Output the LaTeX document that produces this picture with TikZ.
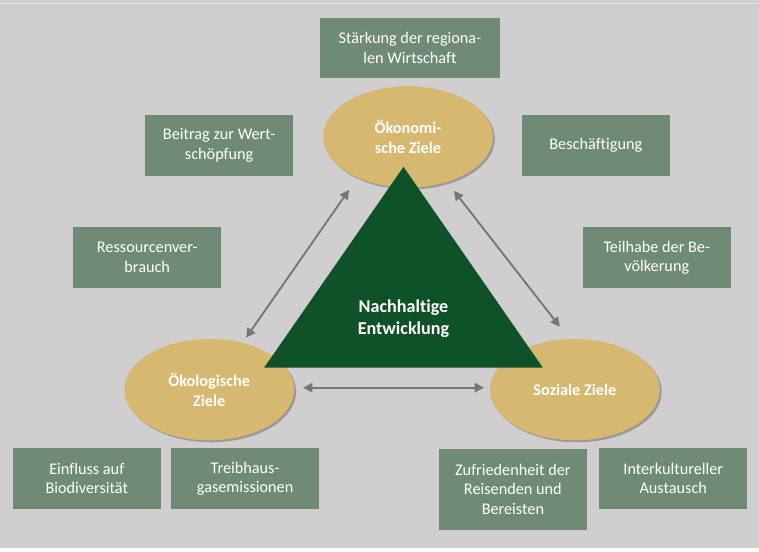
\documentclass[tikz,border=0pt]{standalone}
\usepackage{fontspec}
\setmainfont{Carlito}[Ligatures=NoCommon]
\usetikzlibrary{arrows.meta,shadows}

\definecolor{bggray}{RGB}{208,206,206}
\definecolor{boxgreen}{RGB}{111,139,117}
\definecolor{goalsand}{RGB}{214,184,112}
\definecolor{coregreen}{RGB}{15,81,40}
\definecolor{linkgray}{RGB}{118,118,118}

\tikzset{
  aspect/.style={fill=boxgreen, text=white, align=center, inner sep=0pt,
    minimum width=111pt, minimum height=45.75pt,
    font=\fontsize{12.2}{14.6}\selectfont},
  goal/.style={ellipse, fill=goalsand, text=white, align=center, inner sep=0pt,
    minimum width=127.5pt, minimum height=76pt,
    font=\fontsize{12.2}{15}\selectfont\bfseries,
    drop shadow={shadow xshift=1.5pt, shadow yshift=-1.5pt, opacity=0.25, fill=black}},
  link/.style={draw=linkgray, line width=1.4pt, {Triangle[width=7pt,length=7pt]}-{Triangle[width=7pt,length=7pt]}}
}

\begin{document}
\begin{tikzpicture}[x=0.75pt,y=-0.75pt]
  \usetikzlibrary{shapes.geometric}
  % background
  \fill[white] (0,0) rectangle (759,552);
  \fill[bggray] (0,0) rectangle (759,548);
  \draw[white!40!bggray, line width=0.5pt] (0,3) -- (759,3);
  \useasboundingbox (0,0) rectangle (759,552);

  % goals
  \node[goal] (oekonom) at (408,137) {Ökonomi-\\sche Ziele};
  \node[goal] (oekolog) at (209,390) {Ökologische\\Ziele};
  \node[goal] (sozial) at (575,390) {Soziale Ziele};

  % centre
  \fill[coregreen] (264,368) -- (403.5,167) -- (543,368) -- cycle;
  \node[text=white, align=center, font=\fontsize{13.6}{16.5}\selectfont\bfseries] (core) at (403.5,319) {Nachhaltige\\Entwicklung};

  % aspects
  \node[aspect, minimum width=135pt, minimum height=45pt] (staerkung) at (410,48) {Stärkung der regiona-\\len Wirtschaft};
  \node[aspect] (beitrag) at (219,145.5) {Beitrag zur Wert-\\schöpfung};
  \node[aspect] (beschaeft) at (596,145.5) {Beschäftigung};
  \node[aspect] (ressourcen) at (147,257.5) {Ressourcenver-\\brauch};
  \node[aspect] (teilhabe) at (657,258) {Teilhabe der Be-\\völkerung};
  \node[aspect] (einfluss) at (86.5,479) {Einfluss auf\\Biodiversität};
  \node[aspect] (treibhaus) at (245,479) {Treibhaus-\\gasemissionen};
  \node[aspect, minimum height=60.75pt] (zufrieden) at (513,489.5) {Zufriedenheit der\\Reisenden und\\Bereisten};
  \node[aspect] (interkult) at (673.5,479) {Interkultureller\\Austausch};

  % links between the goals
  \coordinate (oekonomL) at (349,190);
  \coordinate (oekologU) at (246,338);
  \coordinate (oekonomR) at (454,191);
  \coordinate (sozialU) at (560,327);
  \coordinate (oekologR) at (303,388);
  \coordinate (sozialL) at (484,388);
  \draw[link] (oekonomL) -- (oekologU);
  \draw[link] (oekonomR) -- (sozialU);
  \draw[link] (oekologR) -- (sozialL);
\end{tikzpicture}
\end{document}
